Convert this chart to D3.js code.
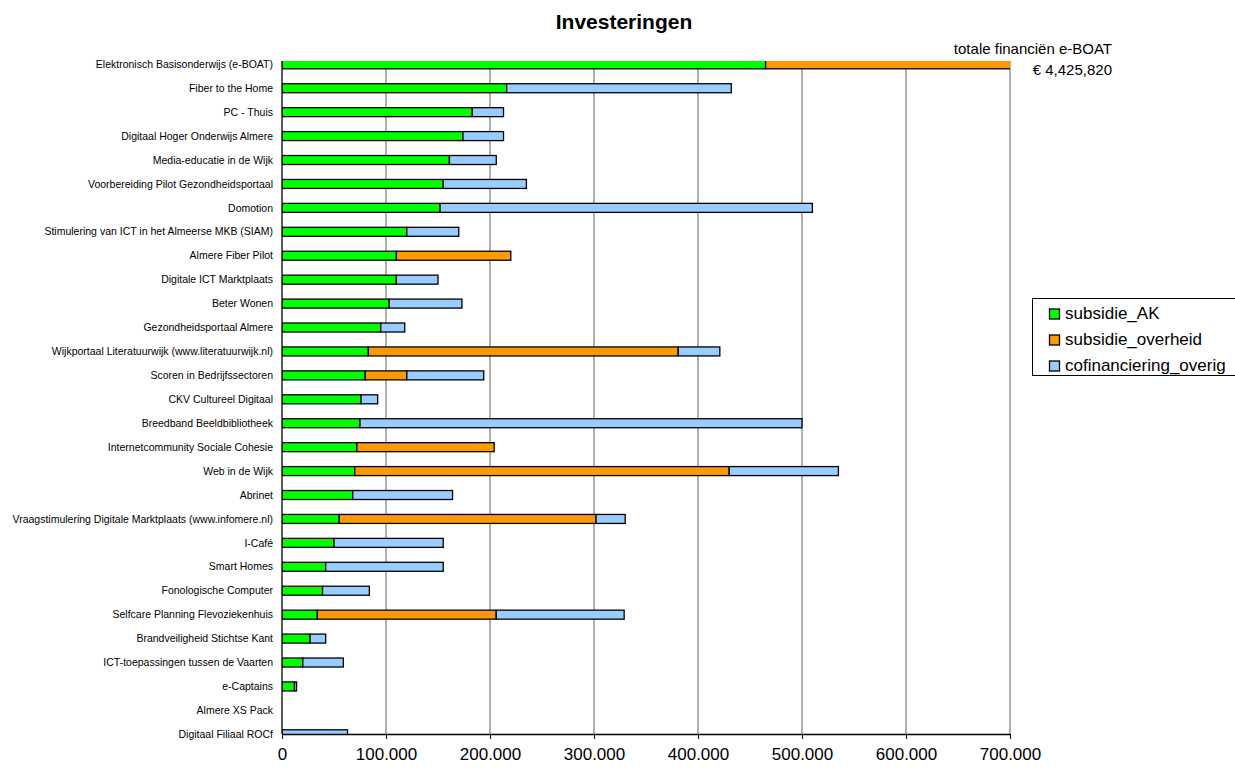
<!DOCTYPE html>
<html>
<head>
<meta charset="utf-8">
<script src="https://cdn.jsdelivr.net/npm/d3@7"></script>
<style>
  html, body { margin: 0; padding: 0; background: #fff; }
  svg { display: block; font-family: "Liberation Sans", Arial, sans-serif; }
</style>
</head>
<body>
<svg id="chart" width="1235" height="771"></svg>
<script>
const categories = [
  "Elektronisch Basisonderwijs (e-BOAT)",
  "Fiber to the Home",
  "PC - Thuis",
  "Digitaal Hoger Onderwijs Almere",
  "Media-educatie in de Wijk",
  "Voorbereiding Pilot Gezondheidsportaal",
  "Domotion",
  "Stimulering van ICT in het Almeerse MKB (SIAM)",
  "Almere Fiber Pilot",
  "Digitale ICT Marktplaats",
  "Beter Wonen",
  "Gezondheidsportaal Almere",
  "Wijkportaal Literatuurwijk (www.literatuurwijk.nl)",
  "Scoren in Bedrijfssectoren",
  "CKV Cultureel Digitaal",
  "Breedband Beeldbibliotheek",
  "Internetcommunity Sociale Cohesie",
  "Web in de Wijk",
  "Abrinet",
  "Vraagstimulering Digitale Marktplaats (www.infomere.nl)",
  "I-Café",
  "Smart Homes",
  "Fonologische Computer",
  "Selfcare Planning Flevoziekenhuis",
  "Brandveiligheid Stichtse Kant",
  "ICT-toepassingen tussen de Vaarten",
  "e-Captains",
  "Almere XS Pack",
  "Digitaal Filiaal ROCf"
];
const subsidie_AK = [465000, 216000, 183000, 174000, 161000, 155000, 152000, 120000, 110000, 110000, 103000, 95000, 83000, 80000, 76000, 75000, 72000, 70000, 68000, 55000, 50000, 42000, 39000, 34000, 27000, 20000, 12000, 0, 0];
const subsidie_overheid = [3960820, 0, 0, 0, 0, 0, 0, 0, 110000, 0, 0, 0, 298000, 40000, 0, 0, 132000, 360000, 0, 247000, 0, 0, 0, 172000, 0, 0, 0, 0, 0];
const cofinanciering_overig = [0, 216000, 30000, 39000, 45000, 80000, 358000, 50000, 0, 40000, 70000, 23000, 40000, 74000, 16000, 425000, 0, 105000, 96000, 28000, 105000, 113000, 45000, 123000, 15000, 39000, 2000, 0, 63000];
const seriesNames = ["subsidie_AK", "subsidie_overheid", "cofinanciering_overig"];
const seriesColors = ["#00FF00", "#FF9900", "#99CCFF"];
const xTicks = [0, 100000, 200000, 300000, 400000, 500000, 600000, 700000];
const titleText = "Investeringen";
const annotationLines = ["totale financiën e-BOAT", "€ 4,425,820"];

const svg = d3.select("#chart");
const pLeft = 282, pRight = 1010, pTop = 61, pBottom = 734;

const x = d3.scaleLinear().domain([0, 700000]).range([pLeft, pRight]);
const y = d3.scalePoint().domain(categories).range([64.3, 734.3]);
const nl = d3.formatLocale({decimal: ",", thousands: ".", grouping: [3], currency: ["€", ""]});
const fmt = nl.format(",");

const rows = categories.map((c, i) => ({
  cat: c,
  subsidie_AK: subsidie_AK[i],
  subsidie_overheid: subsidie_overheid[i],
  cofinanciering_overig: cofinanciering_overig[i]
}));
const stack = d3.stack().keys(seriesNames)(rows);

// title
svg.append("text").attr("x", 624).attr("y", 29).attr("text-anchor", "middle")
  .attr("font-size", 21).attr("font-weight", "bold").text(titleText);

// gridlines
svg.append("g").selectAll("line").data(xTicks.filter(d => d > 0)).join("line")
  .attr("x1", d => x(d)).attr("x2", d => x(d)).attr("y1", pTop).attr("y2", pBottom)
  .attr("stroke", "#7a7a7a").attr("stroke-width", 1.2);

// clip
svg.append("clipPath").attr("id", "plotclip").append("rect")
  .attr("x", pLeft).attr("y", pTop).attr("width", pRight - pLeft).attr("height", pBottom - pTop);

const barH = 9;
const g = svg.append("g").attr("clip-path", "url(#plotclip)");
stack.forEach((layer, si) => {
  g.append("g").selectAll("rect").data(layer.filter(d => d[1] - d[0] > 0)).join("rect")
    .attr("x", d => x(d[0]))
    .attr("y", d => y(d.data.cat) - barH / 2)
    .attr("width", d => x(d[1]) - x(d[0]))
    .attr("height", barH)
    .attr("fill", seriesColors[si])
    .attr("stroke", "#000").attr("stroke-width", 1.3);
});

// y axis line
svg.append("line").attr("x1", pLeft).attr("x2", pLeft).attr("y1", pTop).attr("y2", pBottom)
  .attr("stroke", "#000").attr("stroke-width", 1.3);

// category labels
svg.append("g").selectAll("text").data(categories).join("text")
  .attr("x", 273).attr("y", d => y(d)).attr("dy", "0.35em")
  .attr("text-anchor", "end").attr("font-size", 10.5).attr("fill", "#000")
  .text(d => d);

// x axis
const xAxis = d3.axisBottom(x).tickValues(xTicks).tickFormat(d => fmt(d)).tickSize(5).tickSizeOuter(0);
const ax = svg.append("g").attr("transform", `translate(0,${pBottom})`).call(xAxis);
ax.select(".domain").attr("stroke", "#000").attr("stroke-width", 1.3);
ax.selectAll(".tick line").attr("stroke", "#000");
ax.selectAll(".tick text").attr("font-size", 17).attr("font-family", "Liberation Sans, Arial, sans-serif")
  .attr("fill", "#000").attr("y", 14).attr("dy", "0.71em");

// annotation
svg.append("g").selectAll("text").data(annotationLines).join("text")
  .attr("x", 1112).attr("y", (d, i) => 54 + i * 21).attr("text-anchor", "end")
  .attr("font-size", 15).text(d => d);

// legend
const lg = svg.append("g");
lg.append("rect").attr("x", 1032.5).attr("y", 298.5).attr("width", 210).attr("height", 77)
  .attr("fill", "#fff").attr("stroke", "#000").attr("stroke-width", 1);
seriesNames.forEach((s, i) => {
  const cy = 314 + i * 26;
  lg.append("rect").attr("x", 1049.5).attr("y", cy - 5).attr("width", 10).attr("height", 10)
    .attr("fill", seriesColors[i]).attr("stroke", "#000").attr("stroke-width", 1.3);
  lg.append("text").attr("x", 1065).attr("y", cy + 5).attr("font-size", 17).text(s);
});
</script>
</body>
</html>
